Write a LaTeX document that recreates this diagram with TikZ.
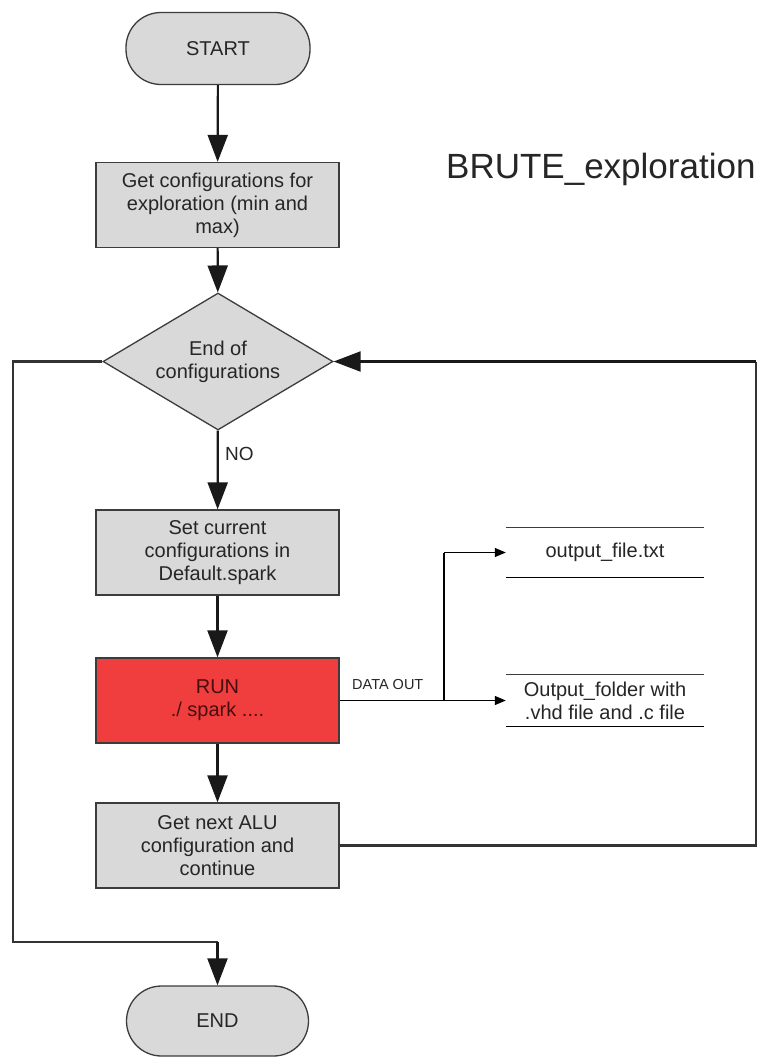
\documentclass[tikz,border=0pt]{standalone}
\usepackage{fontspec}
\setmainfont{Liberation Sans}
\usetikzlibrary{arrows.meta,shapes.geometric}
\definecolor{boxgray}{RGB}{217,217,217}
\definecolor{edgegray}{RGB}{60,60,60}
\definecolor{runred}{RGB}{240,62,62}
\definecolor{inkgray}{RGB}{38,38,38}
\definecolor{runink}{RGB}{70,14,14}
\begin{document}
\begin{tikzpicture}[x=1pt,y=-1pt,
  every node/.style={text=inkgray},
  txt/.style={font=\fontsize{20}{23}\selectfont, align=center},
  terminal/.style={txt, draw=edgegray, line width=1.3pt, fill=boxgray,
    rounded corners=35pt, minimum width=184pt, minimum height=72pt, inner sep=0pt},
  stepbox/.style={txt, draw=edgegray, line width=1.3pt, fill=boxgray,
    minimum width=243pt, minimum height=85pt, inner sep=0pt},
  runbox/.style={stepbox, fill=runred, text=runink},
  decision/.style={txt, diamond, draw=edgegray, line width=1.3pt, fill=boxgray,
    minimum width=230pt, minimum height=137pt, aspect=1.68, inner sep=0pt},
  store/.style={txt, minimum width=198pt, minimum height=49pt, inner sep=0pt},
  flow/.style={line width=2.2pt, draw=black!90, -{Triangle[length=27pt,width=20pt]}},
  loopline/.style={line width=2.2pt, draw=black!80},
  dataflow/.style={line width=1.2pt, draw=black, -{Triangle[length=11pt,width=9pt]}},
]
\useasboundingbox[fill=white] (0,0) rectangle (764,1058);

% process steps
\node[terminal] (start) at (218,48.5) {START};
\node[stepbox] (getcfg) at (217.5,205) {Get configurations for\\exploration (min and\\max)};
\node[decision] (endcfg) at (218,361.5) {End of\\configurations};
\node[stepbox] (setcfg) at (217.5,552.5) {Set current\\configurations in\\Default.spark};
\node[runbox] (run) at (217.5,700.5) {RUN\\./ spark ....};
\node[stepbox] (nextcfg) at (217.5,845.5) {Get next ALU\\configuration and\\continue};
\node[terminal, minimum width=182pt, minimum height=70pt] (finish) at (217.5,1021) {END};

% title
\node[anchor=base west, inner sep=0pt, font=\fontsize{35}{40}\selectfont] (title) at (446,178) {BRUTE\_exploration};

% output data stores
\node[store] (outfile) at (605,552.5) {output\_file.txt};
\node[store, minimum height=51pt] (outfolder) at (605,700.5) {Output\_folder with\\.vhd file and .c file};
\foreach \s in {outfile,outfolder}{
  \draw[line width=1.3pt, draw=edgegray] (\s.north west) -- (\s.north east);
  \draw[line width=1.3pt, draw=black] (\s.south west) -- (\s.south east);
}

% main flow
\draw[flow] (start) -- (getcfg);
\draw[flow] (getcfg) -- (endcfg);
\draw[flow] (endcfg) -- node[pos=0.3, anchor=west, xshift=3pt, font=\fontsize{19}{22}\selectfont] (no) {NO} (setcfg);
\draw[flow] (setcfg) -- (run);
\draw[flow] (run) -- (nextcfg);

% loop back to the decision
\coordinate (loopR) at (756,845.5);
\coordinate (loopT) at (756,361.5);
\draw[loopline] (nextcfg.east) -- (loopR) -- (loopT);
\draw[flow] (loopT) -- (endcfg.east);

% exit when all configurations are done
\coordinate (exitT) at (13,361.5);
\coordinate (exitB) at (13,942);
\coordinate (exitC) at (217.5,942);
\draw[loopline] (endcfg.west) -- (exitT) -- (exitB) -- (exitC);
\draw[flow] (exitC) -- (finish.north);

% data out
\coordinate (split) at (444,700.5);
\coordinate (splitT) at (444,552.5);
\draw[dataflow] (run.east) -- (outfolder.west);
\draw[line width=1.2pt] (split) -- (splitT);
\draw[dataflow] (splitT) -- (outfile.west);
\node[anchor=west, inner sep=0pt, font=\fontsize{14.5}{16}\selectfont] (dataout) at (352,684) {DATA OUT};
\end{tikzpicture}
\end{document}
